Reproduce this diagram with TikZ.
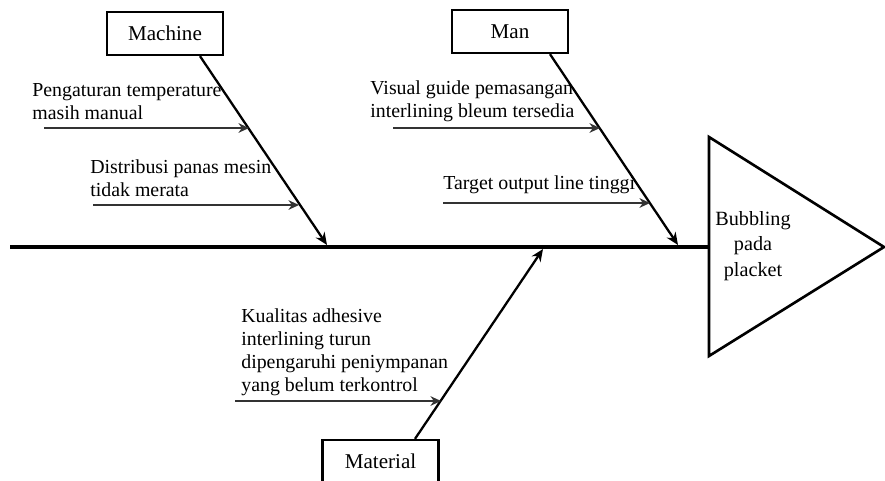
\documentclass[tikz,border=0pt]{standalone}
\usepackage{fontspec}
\setmainfont{Liberation Serif}
\usetikzlibrary{arrows.meta}
\begin{document}
\begin{tikzpicture}[x=0.02cm, y=-0.02cm,
  catbox/.style={draw, rectangle, line width=1.3pt, minimum width=2.32cm, minimum height=0.86cm, font=\fontsize{12}{13}\selectfont},
  causetext/.style={anchor=west, inner sep=0pt, align=left, font=\fontsize{11.3}{13}\selectfont},
  bone/.style={line width=1.3pt, -{Stealth[length=7pt, width=6pt]}},
  cause/.style={line width=0.8pt, black!80, -{Stealth[length=6pt, width=5.5pt]}}]
\useasboundingbox (0,0) rectangle (885,480);
\node[catbox] (machine) at (165,33.5) {Machine};
\node[catbox] (man) at (510,31.5) {Man};
\node[catbox] (material) at (380.5,461.5) {Material};
\coordinate (tail) at (10,247);
\coordinate (head) at (709,247);
\draw[line width=1.9pt] (tail) -- (head);
\draw[line width=1.5pt] (709,137) -- (709,356) -- (884,247) -- cycle;
\node[align=center, font=\fontsize{11.5}{14.5}\selectfont] (effect) at (753,246) {Bubbling\\pada\\placket};
\coordinate (mach) at (327,245);
\coordinate (mn) at (678,245);
\coordinate (mat) at (543,249);
\draw[bone] ([xshift=0.7cm]machine.south) -- (mach);
\draw[bone] ([xshift=0.8cm]man.south) -- (mn);
\draw[bone] ([xshift=0.69cm]material.north) -- (mat);
\node[causetext] (c1) at (32,101.5) {Pengaturan temperature\\masih manual};
\node[causetext] (c2) at (90,178.5) {Distribusi panas mesin\\tidak merata};
\node[causetext] (c3) at (370,101.5) {Visual guide pemasangan\\interlining bleum tersedia};
\node[causetext] (c4) at (443,185) {Target output line tinggi};
\node[causetext] (c5) at (241,352) {Kualitas adhesive\\interlining turun\\dipengaruhi peniympanan\\yang belum terkontrol};
\coordinate (s1) at (44,128);
\coordinate (e1) at (249,128);
\coordinate (s2) at (93,205);
\coordinate (e2) at (299,205);
\coordinate (s3) at (393,128);
\coordinate (e3) at (600,128);
\coordinate (s4) at (443,203);
\coordinate (e4) at (650,203);
\coordinate (s5) at (235,401);
\coordinate (e5) at (441,401);
\draw[cause] (s1) -- (e1);
\draw[cause] (s2) -- (e2);
\draw[cause] (s3) -- (e3);
\draw[cause] (s4) -- (e4);
\draw[cause] (s5) -- (e5);
\end{tikzpicture}
\end{document}
